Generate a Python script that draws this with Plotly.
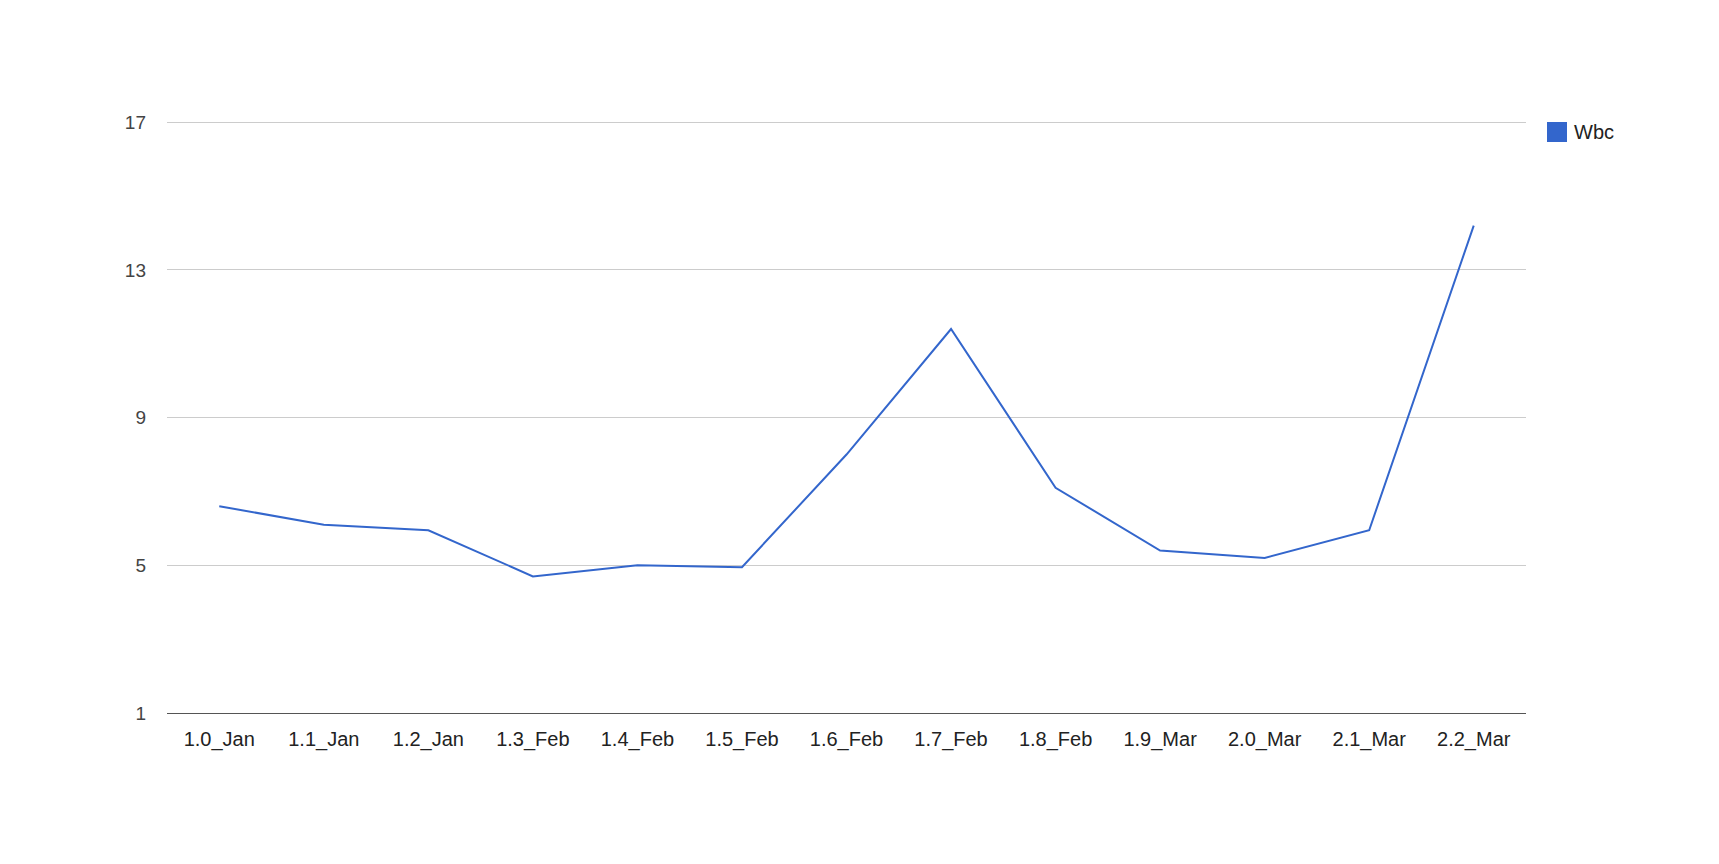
import plotly.graph_objects as go

categories = ["1.0_Jan", "1.1_Jan", "1.2_Jan", "1.3_Feb", "1.4_Feb", "1.5_Feb", "1.6_Feb",
              "1.7_Feb", "1.8_Feb", "1.9_Mar", "2.0_Mar", "2.1_Mar", "2.2_Mar"]
wbc = [6.6, 6.1, 5.95, 4.7, 5.0, 4.95, 8.0, 11.4, 7.1, 5.4, 5.2, 5.95, 14.2]
series_name = "Wbc"
y_ticks = [1, 5, 9, 13, 17]

# page body has an 8px margin, so the figure is offset by 8px
W, H = 1711, 856
L, T = 159, 112
PW, PH = 1359, 593
R = W - L - PW
B = H - T - PH
line_color = "#3366cc"
font = "Liberation Sans, Arial, sans-serif"

fig = go.Figure()
fig.add_trace(go.Scatter(x=categories, y=wbc, mode="lines", name=series_name,
                         line=dict(color=line_color, width=2), showlegend=False))

# legend key (square + label), positioned relative to the plot area
def px_x(x):
    return (x - L) / PW

def px_y(y):
    return (T + PH - y) / PH

fig.add_shape(type="rect", xref="paper", yref="paper",
              x0=px_x(1539), x1=px_x(1559), y0=px_y(134), y1=px_y(114),
              fillcolor=line_color, line=dict(width=0))
fig.add_annotation(xref="paper", yref="paper", x=px_x(1564), y=px_y(123.5),
                   text=series_name, showarrow=False, xanchor="left", yanchor="middle",
                   font=dict(family=font, size=20, color="#222222"))

fig.update_layout(
    width=W, height=H,
    margin=dict(l=L, r=R, t=T, b=B, pad=0),
    paper_bgcolor="white", plot_bgcolor="white",
    font=dict(family=font, size=19, color="#222222"),
    showlegend=False,
    xaxis=dict(range=[-0.5, len(categories) - 0.5], showgrid=False, zeroline=False,
               showline=True, linecolor="#555555", linewidth=1, ticks="",
               ticklabelstandoff=8, tickfont=dict(size=20, color="#222222")),
    yaxis=dict(range=[1, 17.06], tickvals=y_ticks, showgrid=True, gridcolor="#cccccc",
               gridwidth=1, zeroline=False, showline=False, ticks="",
               ticklabelstandoff=20, tickfont=dict(size=19, color="#444444")),
)

fig.write_html("out.html")
